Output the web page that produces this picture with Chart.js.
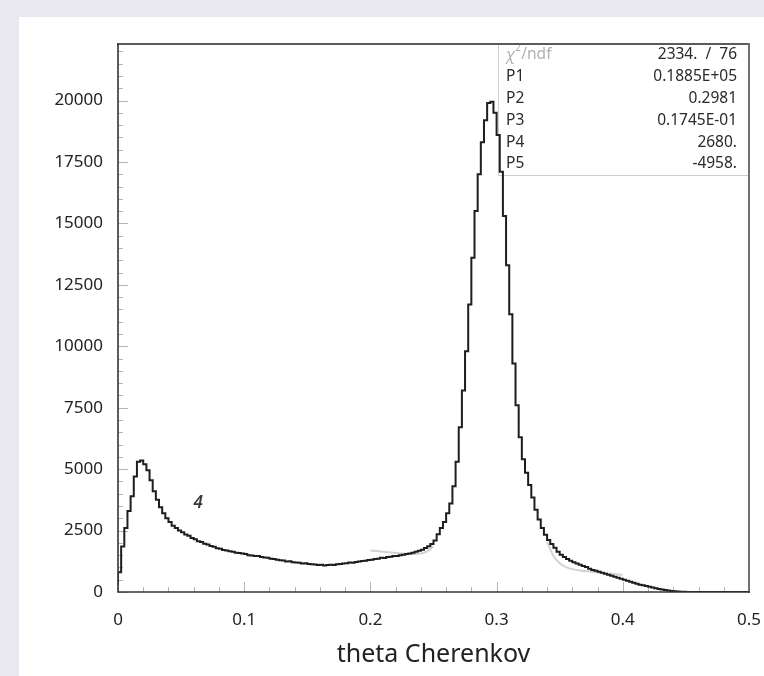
<!DOCTYPE html>
<html>
<head>
<meta charset="utf-8">
<script src="https://cdn.jsdelivr.net/npm/chart.js@4/dist/chart.umd.min.js"></script>
<style>
html,body{margin:0;padding:0;background:#e8e8ee;width:764px;height:676px;overflow:hidden}
#panel{position:absolute;left:19px;top:17px;width:745px;height:659px;background:#ffffff}
canvas{display:block}
</style>
</head>
<body>
<div id="panel"><canvas id="c" width="745" height="659"></canvas></div>
<script>
// ---- data ----
const binWidth = 0.0025;           // histogram bin width in theta
const counts = [
  300, 800, 1850, 2600, 3300, 3900, 4700, 5300, 5350, 5200,
  4950, 4550, 4100, 3750, 3450, 3200, 3000, 2850, 2700, 2600,
  2500, 2430, 2340, 2290, 2200, 2150, 2070, 2030, 1960, 1930,
  1870, 1840, 1780, 1760, 1710, 1690, 1660, 1640, 1600, 1590,
  1570, 1550, 1500, 1490, 1460, 1470, 1420, 1400, 1390, 1350,
  1340, 1310, 1290, 1280, 1240, 1250, 1210, 1200, 1190, 1160,
  1170, 1140, 1130, 1120, 1100, 1110, 1080, 1100, 1110, 1100,
  1130, 1140, 1160, 1170, 1200, 1190, 1220, 1240, 1260, 1270,
  1300, 1310, 1340, 1350, 1390, 1380, 1420, 1430, 1460, 1470,
  1500, 1520, 1550, 1570, 1600, 1640, 1680, 1720, 1790, 1860,
  1950, 2100, 2350, 2600, 2850, 3200, 3600, 4300, 5300, 6700,
  8200, 9800, 11700, 13600, 15500, 17000, 18300, 19200, 19900, 19950,
  19500, 18600, 17100, 15300, 13300, 11300, 9300, 7600, 6300, 5400,
  4850, 4350, 3850, 3350, 2950, 2600, 2330, 2120, 1950, 1800,
  1640, 1520, 1420, 1340, 1270, 1210, 1160, 1110, 1060, 1020,
  950, 900, 860, 820, 780, 740, 700, 660, 620, 580,
  540, 500, 460, 420, 380, 340, 300, 270, 240, 210,
  180, 150, 125, 100, 80, 60, 45, 30, 20, 12,
  8, 5, 3, 2, 1, 0, 0, 0, 0, 0,
  0, 0, 0, 0, 0, 0, 0, 0, 0, 0
];
// faint fit curve, only where it shows beside the histogram
const fitTheta = [
  0.200, 0.205, 0.210, 0.215, 0.220, 0.225, 0.230, 0.235, 0.240, 0.245, 0.250,
  0.300,
  0.340, 0.345, 0.350, 0.355, 0.360, 0.365, 0.370, 0.375, 0.380, 0.385, 0.390, 0.395, 0.400
];
const fitValues = [
  1690, 1665, 1640, 1614, 1590, 1567, 1549, 1542, 1564, 1649, 1863,
  null,
  2050, 1478, 1172, 1012, 930, 882, 850, 821, 796, 771, 746, 722, 697
];
const xTickValues = [0, 0.1, 0.2, 0.3, 0.4, 0.5];
const yTickValues = [0, 2500, 5000, 7500, 10000, 12500, 15000, 17500, 20000];
const xTitle = 'theta Cherenkov';
const statsHeader = ['/ndf', '2334.  /  76'];
const statsLabels = ['P1', 'P2', 'P3', 'P4', 'P5'];
const statsValues = ['0.1885E+05', '0.2981', '0.1745E-01', '2680.', '-4958.'];
const peakLabel = '4';
const peakLabelTheta = 0.0635;
const peakLabelCount = 3600;

// ---- build histogram points (left bin edges + closing edge) ----
const histPoints = counts.map((c, i) => ({ x: i * binWidth, y: c }));
histPoints.push({ x: counts.length * binWidth, y: counts[counts.length - 1] });
const fitPoints = fitTheta.map((t, i) => ({ x: t, y: fitValues[i] }));

const FONT = "'Noto Sans', 'DejaVu Sans', sans-serif";

const framePlugin = {
  id: 'rootFrame',
  beforeDatasetsDraw(chart) {
    const { ctx, chartArea: a, scales: { x, y } } = chart;
    ctx.save();
    // inner tick marks
    ctx.strokeStyle = '#b4b4b4';
    ctx.lineWidth = 1;
    ctx.beginPath();
    for (let v = 0; v <= 22000; v += 500) {
      const py = Math.round(y.getPixelForValue(v)) + 0.5;
      const len = (v % 2500 === 0) ? 10 : 5;
      ctx.moveTo(a.left, py); ctx.lineTo(a.left + len, py);
    }
    for (let k = 0; k <= 25; k++) {
      const v = k * 0.02;
      const px = Math.round(x.getPixelForValue(v)) + 0.5;
      const len = (k % 5 === 0) ? 10 : 5;
      ctx.moveTo(px, a.bottom); ctx.lineTo(px, a.bottom - len);
    }
    ctx.stroke();
    // stats box outline (left and bottom, light)
    const bx = a.right - 251, by = a.top + 131;
    ctx.strokeStyle = '#cfcfcf';
    ctx.lineWidth = 1;
    ctx.beginPath();
    ctx.moveTo(bx + 0.5, a.top); ctx.lineTo(bx + 0.5, by + 0.5); ctx.lineTo(a.right, by + 0.5);
    ctx.stroke();
    // stats text
    ctx.textBaseline = 'middle';
    const rowY = i => a.top + 11 + i * 21.8;
    ctx.fillStyle = '#b0b0b0';
    ctx.textAlign = 'left';
    ctx.font = 'italic 16px ' + FONT;
    ctx.fillText('\u03c7', bx + 8, rowY(0));
    const wChi = ctx.measureText('\u03c7').width;
    ctx.font = '10px ' + FONT;
    ctx.fillText('2', bx + 8 + wChi, rowY(0) - 7);
    ctx.font = '15.5px ' + FONT;
    ctx.fillText(statsHeader[0], bx + 8 + wChi + 6, rowY(0));
    ctx.fillStyle = '#2a2a2a';
    ctx.textAlign = 'right';
    ctx.fillText(statsHeader[1], a.right - 12, rowY(0));
    statsLabels.forEach((lab, i) => {
      ctx.textAlign = 'left';
      ctx.fillText(lab, bx + 8, rowY(i + 1));
      ctx.textAlign = 'right';
      ctx.fillText(statsValues[i], a.right - 12, rowY(i + 1));
    });
    ctx.restore();
  },
  afterDatasetsDraw(chart) {
    const { ctx, chartArea: a, scales: { x, y } } = chart;
    ctx.save();
    ctx.lineCap = 'square';
    ctx.strokeStyle = '#5a5a5a';
    ctx.lineWidth = 2;
    ctx.beginPath(); ctx.moveTo(a.left, a.top); ctx.lineTo(a.right, a.top); ctx.stroke();
    ctx.strokeStyle = '#707070';
    ctx.beginPath(); ctx.moveTo(a.right, a.top); ctx.lineTo(a.right, a.bottom); ctx.stroke();
    ctx.strokeStyle = '#333333';
    ctx.lineWidth = 1.6;
    ctx.beginPath(); ctx.moveTo(a.left, a.top); ctx.lineTo(a.left, a.bottom); ctx.lineTo(a.right, a.bottom); ctx.stroke();
    ctx.fillStyle = '#3a3a3a';
    ctx.font = 'italic 600 17px ' + FONT;
    ctx.textAlign = 'center';
    ctx.textBaseline = 'middle';
    ctx.fillText(peakLabel, x.getPixelForValue(peakLabelTheta), y.getPixelForValue(peakLabelCount));
    ctx.restore();
  }
};

new Chart(document.getElementById('c'), {
  type: 'line',
  data: {
    datasets: [
      {
        data: histPoints,
        stepped: 'after',
        borderColor: '#1e1e1e',
        borderWidth: 2,
        pointRadius: 0,
        fill: false,
        order: 0
      },
      {
        data: fitPoints,
        borderColor: '#d2d2d2',
        borderWidth: 2,
        pointRadius: 0,
        fill: false,
        spanGaps: false,
        cubicInterpolationMode: 'monotone',
        order: 1
      }
    ]
  },
  options: {
    responsive: false,
    animation: false,
    devicePixelRatio: 1,
    layout: { padding: { top: 27, right: 15, left: 0, bottom: 0 } },
    plugins: { legend: { display: false }, tooltip: { enabled: false } },
    scales: {
      x: {
        type: 'linear', min: 0, max: 0.5,
        afterBuildTicks: s => { s.ticks = xTickValues.map(v => ({ value: v })); },
        afterFit: s => { s.height = 84; s.paddingRight = 0; s.paddingLeft = 0; },
        grid: { display: false, drawTicks: false },
        border: { display: false },
        ticks: {
          padding: 18, color: '#222', autoSkip: false, maxRotation: 0,
          font: { family: FONT, size: 17 },
          callback: v => (v === 0 ? '0' : v.toFixed(1))
        },
        title: {
          display: true, text: xTitle, color: '#222',
          font: { family: FONT, size: 25 },
          padding: { top: 0, bottom: 6 }
        }
      },
      y: {
        type: 'linear', min: 0, max: 22300,
        afterBuildTicks: s => { s.ticks = yTickValues.map(v => ({ value: v })); },
        afterFit: s => { s.width = 99; s.paddingTop = 0; s.paddingBottom = 0; },
        grid: { display: false, drawTicks: false },
        border: { display: false },
        ticks: {
          padding: 15, color: '#222', autoSkip: false,
          font: { family: FONT, size: 17 },
          callback: v => String(v)
        }
      }
    }
  },
  plugins: [framePlugin]
});
</script>
</body>
</html>
